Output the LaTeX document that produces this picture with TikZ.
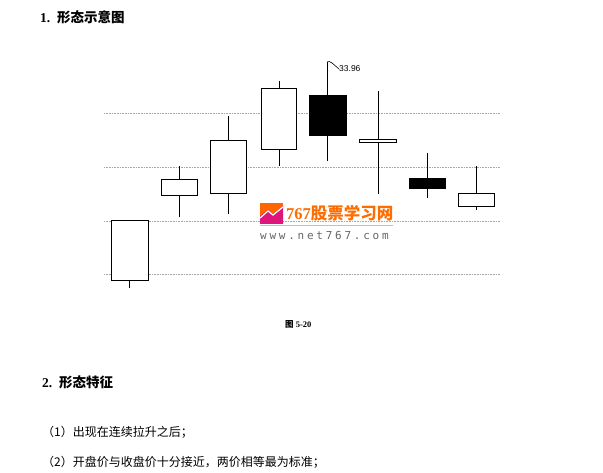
\documentclass[tikz,border=0pt]{standalone}
\usepackage{fontspec}
\setmainfont{Liberation Serif}
\newfontfamily\cjk{Noto Sans CJK SC}
\newfontfamily\cjkb{Noto Sans CJK SC Bold}
\newfontfamily\wmono[LetterSpace=25]{DejaVu Sans Mono}
\begin{document}
\begin{tikzpicture}[x=1pt,y=-1pt,
 grid/.style={densely dotted,gray!70,line width=0.6pt},
 wick/.style={line width=1pt},
 body/.style={draw,line width=1pt,fill=white},
 bbody/.style={draw,line width=1pt,fill=black},
 lbl/.style={anchor=west,inner sep=0pt}]
\useasboundingbox (0,0) rectangle (603,473);
\foreach \y in {113,167,221,274}{\draw[grid] (104,\y) -- (500,\y);}
\foreach \n/\cx/\wt/\wb/\xa/\xb/\ya/\yb/\st in {
 a/129/221/288/111/148/221/281/body,
 b/179/166/217/161/197/180/196/body,
 c/228/116/214/210/246/141/194/body,
 d/279/81/166/261/296/89/150/body,
 e/327/62/161/309/346/96/136/bbody,
 f/378/91/194/359/396/140/143/body,
 g/427/153/198/409/445/179/189/bbody,
 h/476/166/210/458/494/194/207/body}{
 \coordinate (\n t) at (\cx,\wt);
 \coordinate (\n b) at (\cx,\wb);
 \draw[wick] (\n t) -- (\n b);
 \draw[\st] (\xa,\ya) rectangle (\xb,\yb);
}
\node[lbl,font=\fontsize{8.5}{9}\selectfont\fontspec{Liberation Sans}] (v) at (339,69) {33.96};
\draw[line width=0.6pt] (et) .. controls (330,60) and (333,64) .. (v.west);
% watermark
\fill[orange!80!red] (260,203) rectangle (283,224);
\fill[magenta!70!purple] (260,224) -- (260,216) -- (268,210) -- (273,214) -- (283,206) -- (283,224) -- cycle;
\draw[white,line width=1.2pt] (260,218) -- (268,211) -- (273,215) -- (283,207);
\node[lbl,text=orange!85!red,font=\bfseries\fontsize{16.5}{18}\selectfont] (w1) at (286,213) {767{\cjkb 股票学习网}};
\draw[orange!60,line width=1pt] (260,226) -- (393,226);
\node[lbl,text=gray!80!black,font=\fontsize{11}{12}\selectfont\wmono] (w2) at (260,235) {www.net767.com};
% texts
\node[lbl,font=\bfseries\fontsize{13.5}{15}\selectfont] (t1) at (40,17) {1.\ \ {\cjkb 形态示意图}};
\node[lbl,font=\bfseries\fontsize{8.5}{10}\selectfont] (cap) at (285,324) {{\cjkb 图} 5-20};
\node[lbl,font=\bfseries\fontsize{13.5}{15}\selectfont] (t2) at (42,382) {2.\ \ {\cjkb 形态特征}};
\node[lbl,font=\fontsize{12}{14}\selectfont\cjk] (p1) at (42,432) {（1）出现在连续拉升之后；};
\node[lbl,font=\fontsize{12}{14}\selectfont\cjk] (p2) at (42,462) {（2）开盘价与收盘价十分接近，两价相等最为标准；};
\end{tikzpicture}
\end{document}
